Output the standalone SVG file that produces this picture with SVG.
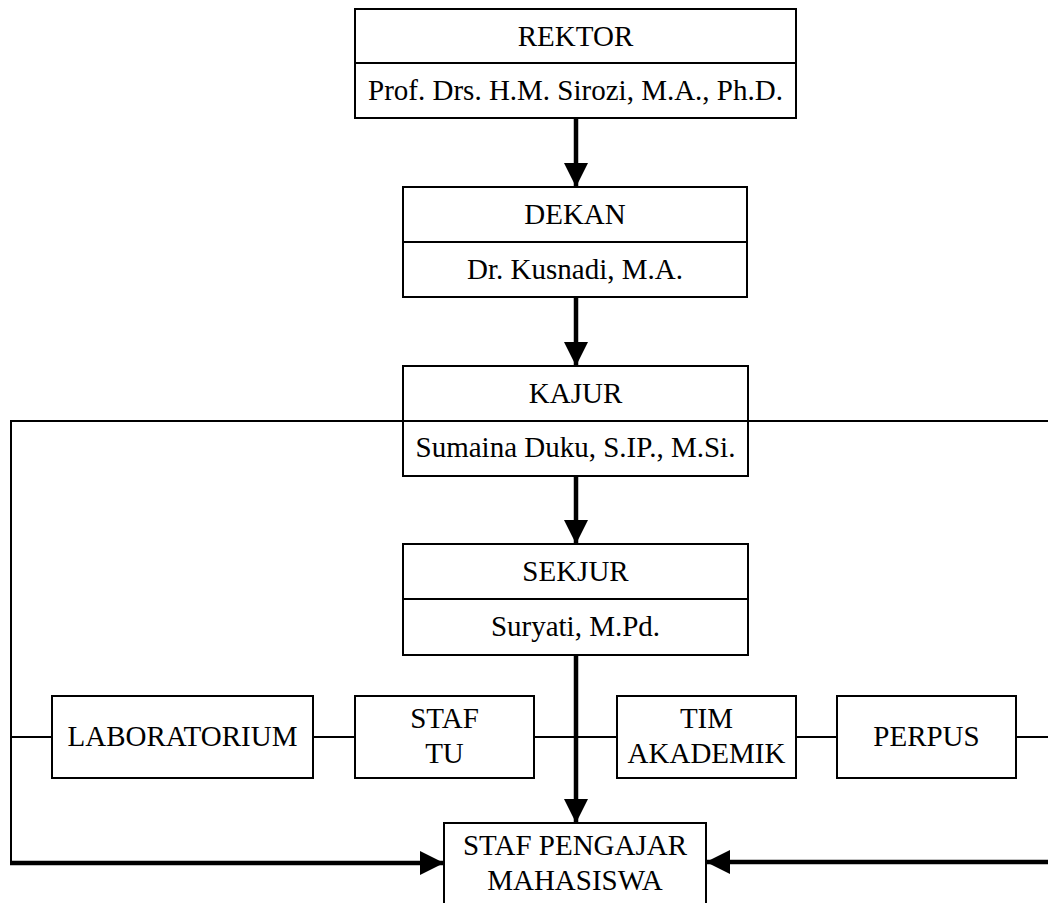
<svg xmlns="http://www.w3.org/2000/svg" width="1048" height="903" viewBox="0 0 1048 903">
<style>
.box{fill:#fff;stroke:#000;stroke-width:2}
.t{font-family:"Liberation Serif","Times New Roman",serif;font-size:29px;fill:#000;text-anchor:middle}
.thin{fill:none;stroke:#000;stroke-width:2}
.thick{fill:none;stroke:#000;stroke-width:4.5}
</style>
<defs>
<marker id="ah" markerUnits="userSpaceOnUse" markerWidth="24" markerHeight="24" viewBox="0 0 22 22" refX="22" refY="11" orient="auto">
<path d="M0,0 L22,11 L0,22 Z" fill="#000"/>
</marker>
</defs>
<rect width="1048" height="903" fill="#fff"/>
<g id="connectors">
<line class="thick" x1="576" y1="118" x2="576" y2="187" marker-end="url(#ah)"/>
<line class="thick" x1="576" y1="297" x2="576" y2="366" marker-end="url(#ah)"/>
<line class="thick" x1="576" y1="476" x2="576" y2="544" marker-end="url(#ah)"/>
<line class="thick" x1="576" y1="655" x2="576" y2="823" marker-end="url(#ah)"/>
<polyline class="thin" points="1048,421 11,421 11,863"/>
<line class="thin" x1="11" y1="737" x2="52" y2="737"/>
<line class="thin" x1="313" y1="737" x2="355" y2="737"/>
<line class="thin" x1="534" y1="737" x2="617" y2="737"/>
<line class="thin" x1="796" y1="737" x2="837" y2="737"/>
<line class="thin" x1="1016" y1="737" x2="1048" y2="737"/>
<line class="thick" x1="10" y1="863" x2="444" y2="863" marker-end="url(#ah)"/>
<line class="thick" x1="1048" y1="862" x2="706" y2="862" marker-end="url(#ah)"/>
</g>
<g id="rektor">
<rect class="box" x="355" y="9" width="441" height="109"/>
<line class="thin" x1="355" y1="63" x2="796" y2="63"/>
<text class="t" x="575.5" y="45.5">REKTOR</text>
<text class="t" x="575.5" y="100">Prof. Drs. H.M. Sirozi, M.A., Ph.D.</text>
</g>
<g id="dekan">
<rect class="box" x="403" y="187" width="344" height="110"/>
<line class="thin" x1="403" y1="242" x2="747" y2="242"/>
<text class="t" x="575" y="224">DEKAN</text>
<text class="t" x="575" y="279">Dr. Kusnadi, M.A.</text>
</g>
<g id="kajur">
<rect class="box" x="403" y="366" width="345" height="110"/>
<line class="thin" x1="403" y1="421" x2="748" y2="421"/>
<text class="t" x="575.5" y="402.5">KAJUR</text>
<text class="t" x="575.5" y="457">Sumaina Duku, S.IP., M.Si.</text>
</g>
<g id="sekjur">
<rect class="box" x="403" y="544" width="345" height="111"/>
<line class="thin" x1="403" y1="599" x2="748" y2="599"/>
<text class="t" x="575.5" y="580.5">SEKJUR</text>
<text class="t" x="575.5" y="636">Suryati, M.Pd.</text>
</g>
<g id="laboratorium">
<rect class="box" x="52" y="696" width="261" height="82"/>
<text class="t" x="182.5" y="746">LABORATORIUM</text>
</g>
<g id="staf-tu">
<rect class="box" x="355" y="696" width="179" height="82"/>
<text class="t" x="444.5" y="728">STAF</text>
<text class="t" x="444.5" y="763">TU</text>
</g>
<g id="tim-akademik">
<rect class="box" x="617" y="696" width="179" height="82"/>
<text class="t" x="706.5" y="728">TIM</text>
<text class="t" x="706.5" y="763">AKADEMIK</text>
</g>
<g id="perpus">
<rect class="box" x="837" y="696" width="179" height="82"/>
<text class="t" x="926.5" y="746">PERPUS</text>
</g>
<g id="staf-pengajar">
<rect class="box" x="444" y="823" width="262" height="90"/>
<text class="t" x="575" y="855">STAF PENGAJAR</text>
<text class="t" x="575" y="890">MAHASISWA</text>
</g>
</svg>
